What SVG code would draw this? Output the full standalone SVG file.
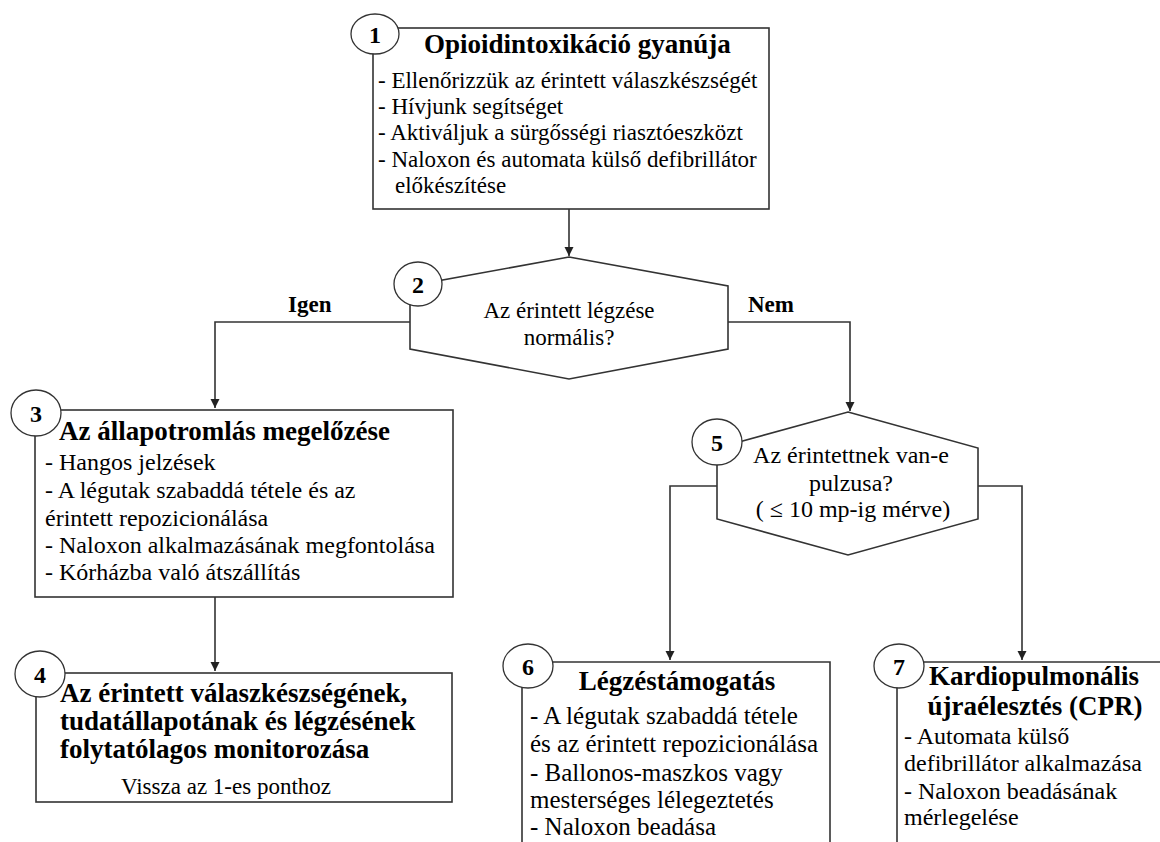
<svg xmlns="http://www.w3.org/2000/svg" width="1160" height="842" viewBox="0 0 1160 842">
<style>
.box{fill:#fff;stroke:#333;stroke-width:1.6}
.circ{fill:#fff;stroke:#333;stroke-width:1.3}
.line{fill:none;stroke:#333;stroke-width:1.6}
text{font-family:"Liberation Serif","Times New Roman",serif;fill:#000}
.t{font-size:27px;font-weight:bold}
.b{font-size:23px}
.b24{font-size:24px}
.b25{font-size:25px}
.n{font-size:24px;font-weight:bold;text-anchor:middle}
.lab{font-size:23px;font-weight:bold}
.c{text-anchor:middle}
</style>
<defs>
<marker id="arr" viewBox="0 0 10 10" refX="10" refY="5" markerWidth="9" markerHeight="11" markerUnits="userSpaceOnUse" orient="auto">
<path d="M0,0 L10,5 L0,10 Z" fill="#222"/>
</marker>
</defs>
<rect width="1160" height="842" fill="#fff"/>

<g id="connectors">
<line class="line" x1="569" y1="209" x2="569" y2="256" marker-end="url(#arr)"/>
<polyline class="line" points="410,322 215,322 215,408" marker-end="url(#arr)"/>
<polyline class="line" points="728,322 850,322 850,411" marker-end="url(#arr)"/>
<line class="line" x1="215" y1="597" x2="215" y2="671" marker-end="url(#arr)"/>
<polyline class="line" points="717,486 670,486 670,660" marker-end="url(#arr)"/>
<polyline class="line" points="978,486 1022,486 1022,660" marker-end="url(#arr)"/>
</g>

<g id="node1">
<rect class="box" x="373" y="28" width="396" height="181"/>
<ellipse class="circ" cx="375" cy="34" rx="24" ry="20"/>
<text class="n" x="375" y="43">1</text>
<text class="t" x="424" y="53">Opioidintoxikáció gyanúja</text>
<text class="b" x="378" y="88">- Ellenőrizzük az érintett válaszkészségét</text>
<text class="b" x="378" y="114">- Hívjunk segítséget</text>
<text class="b" x="378" y="140">- Aktiváljuk a sürgősségi riasztóeszközt</text>
<text class="b" x="378" y="167">- Naloxon és automata külső defibrillátor</text>
<text class="b" x="395" y="193">előkészítése</text>
</g>

<g id="node2">
<polygon class="box" points="569,257 728,286 728,349 569,379 410,349 410,286"/>
<ellipse class="circ" cx="418" cy="284" rx="24" ry="22"/>
<text class="n" x="418" y="293">2</text>
<text class="b c" x="569" y="318">Az érintett légzése</text>
<text class="b c" x="569" y="345">normális?</text>
<text class="lab" x="288" y="312">Igen</text>
<text class="lab" x="748" y="312">Nem</text>
</g>

<g id="node3">
<rect class="box" x="35" y="410" width="418" height="187"/>
<ellipse class="circ" cx="36" cy="413" rx="25" ry="23"/>
<text class="n" x="36" y="422">3</text>
<text class="t" x="59" y="440">Az állapotromlás megelőzése</text>
<text class="b24" x="45" y="470">- Hangos jelzések</text>
<text class="b24" x="45" y="498">- A légutak szabaddá tétele és az</text>
<text class="b24" x="45" y="526">érintett repozicionálása</text>
<text class="b24" x="45" y="553">- Naloxon alkalmazásának megfontolása</text>
<text class="b24" x="45" y="580">- Kórházba való átszállítás</text>
</g>

<g id="node4">
<rect class="box" x="36" y="673" width="416" height="129"/>
<ellipse class="circ" cx="40" cy="674" rx="25" ry="23"/>
<text class="n" x="40" y="683">4</text>
<text class="t" x="60" y="702">Az érintett válaszkészségének,</text>
<text class="t" x="60" y="730">tudatállapotának és légzésének</text>
<text class="t" x="60" y="758">folytatólagos monitorozása</text>
<text class="b c" x="226" y="794">Vissza az 1-es ponthoz</text>
</g>

<g id="node5">
<polygon class="box" points="848,412 978,448 978,519 848,555 717,519 717,448"/>
<ellipse class="circ" cx="717" cy="442" rx="25" ry="23"/>
<text class="n" x="717" y="451">5</text>
<text class="b24 c" x="851" y="463">Az érintettnek van-e</text>
<text class="b24 c" x="851" y="491">pulzusa?</text>
<text class="b24 c" x="853" y="517">( ≤ 10 mp-ig mérve)</text>
</g>

<g id="node6">
<path class="box" d="M522,850 V662 H830 V850"/>
<ellipse class="circ" cx="528" cy="666" rx="25" ry="22"/>
<text class="n" x="528" y="675">6</text>
<text class="t c" x="677" y="690">Légzéstámogatás</text>
<text class="b25" x="530" y="724">- A légutak szabaddá tétele</text>
<text class="b25" x="530" y="752">és az érintett repozicionálása</text>
<text class="b25" x="530" y="781">- Ballonos-maszkos vagy</text>
<text class="b25" x="530" y="808">mesterséges lélegeztetés</text>
<text class="b25" x="530" y="835">- Naloxon beadása</text>
</g>

<g id="node7">
<path class="box" d="M897,850 V662 H1170"/>
<ellipse class="circ" cx="899" cy="666" rx="25" ry="22"/>
<text class="n" x="899" y="675">7</text>
<text class="t c" x="1034" y="685">Kardiopulmonális</text>
<text class="t c" x="1035" y="715">újraélesztés (CPR)</text>
<text class="b24" x="904" y="744">- Automata külső</text>
<text class="b24" x="904" y="771">defibrillátor alkalmazása</text>
<text class="b24" x="904" y="799">- Naloxon beadásának</text>
<text class="b24" x="904" y="825">mérlegelése</text>
</g>
</svg>
